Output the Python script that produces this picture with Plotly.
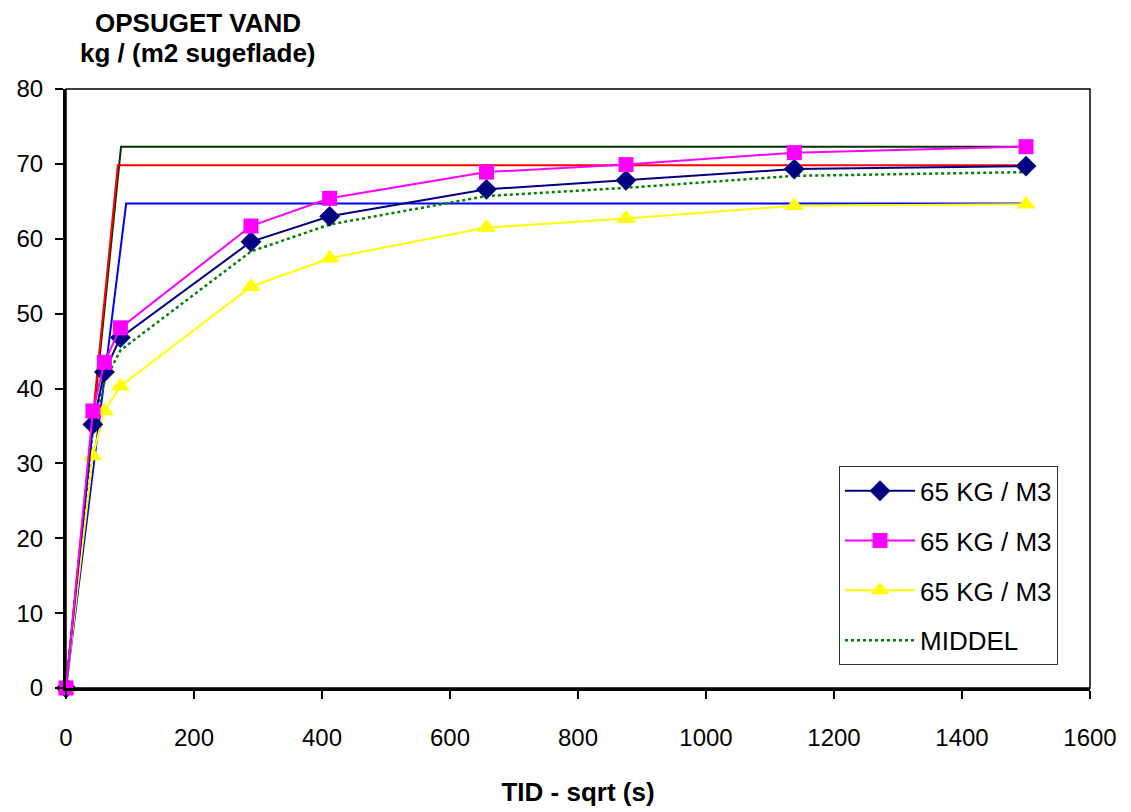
import plotly.graph_objects as go

# tid - sqrt(s)
tid = [0, 42, 60, 85, 289, 412, 657, 875, 1138, 1500]

serie_1 = [0, 35.2, 42.2, 46.8, 59.6, 63.0, 66.6, 67.8, 69.3, 69.7]
serie_2 = [0, 37.0, 43.5, 48.1, 61.7, 65.4, 68.9, 69.9, 71.5, 72.3]
serie_3 = [0, 31.0, 37.0, 40.3, 53.6, 57.4, 61.5, 62.7, 64.4, 64.6]
middel = [0, 34.4, 40.9, 45.1, 58.3, 61.9, 65.7, 66.8, 68.4, 68.9]

# maetningslinjer (ikke i legend)
maet_gron_x = [0, 86, 1500]
maet_gron_y = [0, 72.3, 72.3]
maet_rod_x = [0, 81, 1500]
maet_rod_y = [0, 69.8, 69.8]
maet_blaa_x = [0, 94, 1500]
maet_blaa_y = [0, 64.7, 64.7]

navn = ["65 KG / M3", "65 KG / M3", "65 KG / M3", "MIDDEL"]

FONT = "Liberation Sans, Arial, sans-serif"

fig = go.Figure()

for xs, ys, farve in [
    (maet_gron_x, maet_gron_y, "#003300"),
    (maet_rod_x, maet_rod_y, "#FF0000"),
    (maet_blaa_x, maet_blaa_y, "#0000FF"),
]:
    fig.add_trace(go.Scatter(
        x=xs, y=ys, mode="lines",
        line=dict(color=farve, width=2),
        showlegend=False, hoverinfo="skip",
    ))

fig.add_trace(go.Scatter(
    x=tid, y=middel, mode="lines", name=navn[3],
    line=dict(color="#008000", width=2.5, dash="dot"),
    legendrank=4, legendgroup="d",
))
fig.add_trace(go.Scatter(
    x=tid, y=serie_3, mode="lines+markers", name=navn[2],
    line=dict(color="#FFFF00", width=2),
    marker=dict(symbol="triangle-up", size=17, color="#FFFF00"),
    legendrank=3, legendgroup="c", cliponaxis=False,
))
fig.add_trace(go.Scatter(
    x=tid, y=serie_1, mode="lines+markers", name=navn[0],
    line=dict(color="#000080", width=2),
    marker=dict(symbol="diamond", size=16, color="#000080"),
    legendrank=1, legendgroup="a", cliponaxis=False,
))
fig.add_trace(go.Scatter(
    x=tid, y=serie_2, mode="lines+markers", name=navn[1],
    line=dict(color="#FF00FF", width=2),
    marker=dict(symbol="square", size=15, color="#FF00FF"),
    legendrank=2, legendgroup="b", cliponaxis=False,
))

# tynd ramme om plotområdet
fig.add_shape(type="rect", xref="paper", yref="paper", x0=0, y0=0, x1=1, y1=1,
              line=dict(color="black", width=1.5), layer="below")

fig.update_layout(
    width=1131, height=812,
    margin=dict(l=66, r=41, t=89, b=124),
    paper_bgcolor="white", plot_bgcolor="white",
    font=dict(family=FONT, size=24, color="black"),
    showlegend=True,
    legend=dict(
        x=(839 - 66) / 1024, y=0.370, xanchor="left", yanchor="top",
        bordercolor="#333333", borderwidth=1, bgcolor="white",
        font=dict(size=26), traceorder="grouped", tracegroupgap=13,
        itemwidth=70,
    ),
    xaxis=dict(
        range=[0, 1600], tick0=0, dtick=200, showgrid=False, zeroline=False,
        showline=True, linecolor="black", linewidth=3, automargin=False,
        ticks="outside", ticklen=8, tickwidth=2, tickcolor="black",
        tickfont=dict(size=24), ticklabelstandoff=18,
        title=dict(text="<b>TID - sqrt (s)</b>", font=dict(size=26), standoff=34),
    ),
    yaxis=dict(
        range=[0, 80], tick0=0, dtick=10, showgrid=False, zeroline=False,
        showline=True, linecolor="black", linewidth=3, automargin=False,
        ticks="outside", ticklen=8, tickwidth=2, tickcolor="black",
        tickfont=dict(size=24), ticklabelstandoff=7,
    ),
    annotations=[
        dict(text="<b>OPSUGET VAND</b>", xref="paper", yref="paper",
             x=(198 - 66) / 1024, y=1.0, xanchor="center", yanchor="middle",
             yshift=89 - 23, showarrow=False, font=dict(size=26)),
        dict(text="<b>kg / (m2 sugeflade)</b>", xref="paper", yref="paper",
             x=(198 - 66) / 1024, y=1.0, xanchor="center", yanchor="middle",
             yshift=89 - 53, showarrow=False, font=dict(size=26)),
    ],
)

fig.write_html("out.html", config={"displayModeBar": False},
               post_script="document.body.style.margin='0px';")
